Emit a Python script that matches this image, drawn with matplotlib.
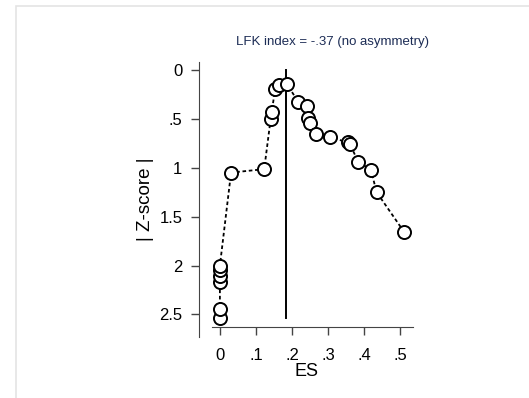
import matplotlib.pyplot as plt
from matplotlib.patches import Rectangle

plt.rcParams['font.family'] = ['Liberation Sans', 'DejaVu Sans']

# Doi plot points, in path order
es = [0, 0, 0, 0, 0, 0, .031, .123, .141, .144, .153, .164, .185,
      .218, .241, .245, .25, .267, .306, .355, .361, .384, .419, .435, .512]
z = [2.54, 2.44, 2.17, 2.11, 2.05, 2.0, 1.05, 1.015, .50, .43, .20, .15, .14,
     .33, .37, .49, .54, .66, .69, .74, .76, .94, 1.02, 1.25, 1.66]
es_mid = 0.183
z_top, z_bottom = 0, 2.54

xticks = [0, .1, .2, .3, .4, .5]
xlabels = ['0', '.1', '.2', '.3', '.4', '.5']
yticks = [0, .5, 1, 1.5, 2, 2.5]
ylabels = ['0', '.5', '1', '1.5', '2', '2.5']
title = 'LFK index = -.37 (no asymmetry)'

fig = plt.figure(figsize=(5.29, 3.98), dpi=100)
# light frame of the screenshot
fig.patches.append(Rectangle((16 / 529, -0.1), 1.2, (398 - 6) / 398 + 0.1,
                             transform=fig.transFigure, fill=False,
                             edgecolor='#e4e4e4', lw=1.2))

ax = fig.add_axes([199 / 529, 61 / 398, 214 / 529, 275 / 398])
ax.set_xlim(-0.058, 0.536)
ax.set_ylim(2.73, -0.08)

ax.plot(es, z, color='black', lw=1.3, linestyle=(0, (2, 1.5)),
        marker='o', markersize=9.4, markerfacecolor='white',
        markeredgecolor='black', markeredgewidth=1.4, zorder=3)
ax.plot([es_mid, es_mid], [z_top, z_bottom], color='black', lw=1.4, zorder=2)

for s in ['top', 'right']:
    ax.spines[s].set_visible(False)
ax.spines['left'].set_color('#444444')
ax.spines['bottom'].set_color('#444444')
ax.spines['bottom'].set_position(('data', 2.63))
ax.spines['bottom'].set_bounds(-0.022, 0.536)

ax.set_xticks(xticks)
ax.set_xticklabels(xlabels)
ax.set_yticks(yticks)
ax.set_yticklabels(ylabels)
ax.tick_params(axis='both', colors='#444444', labelcolor='black', labelsize=12,
               width=1, length=6)
ax.tick_params(axis='x', pad=9)
ax.tick_params(axis='y', pad=6)

ax.set_xlabel('ES', fontsize=13, labelpad=0)
ax.set_ylabel('| Z-score |', fontsize=13.5, labelpad=4)
fig.text(333 / 529, 1 - 42 / 398, title, fontsize=9.5, color='#1c2c55',
         ha='center', va='center')

fig.savefig('out.png', dpi=100)
